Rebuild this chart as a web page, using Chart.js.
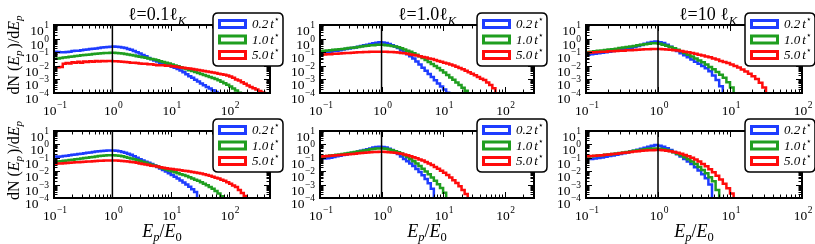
<!DOCTYPE html>
<html><head><meta charset="utf-8">
<script src="https://cdn.jsdelivr.net/npm/chart.js@4.4.1/dist/chart.umd.min.js"></script>
<style>
html,body{margin:0;padding:0;background:#fff;}
#wrap{position:relative;width:815px;height:244px;overflow:hidden;background:#fff}
#wrap canvas{position:absolute;left:0;top:0}
</style></head><body><div id="wrap"></div>
<script>
// ---- bins (left edges, log-uniform, 20 per decade) ----
const binEdges = [0.1,0.1122,0.1259,0.1413,0.1585,0.1778,0.1995,0.2239,0.2512,0.2818,
 0.3162,0.3548,0.3981,0.4467,0.5012,0.5623,0.631,0.7079,0.7943,0.8913,
 1,1.122,1.259,1.413,1.585,1.778,1.995,2.239,2.512,2.818,
 3.162,3.548,3.981,4.467,5.012,5.623,6.31,7.079,7.943,8.913,
 10,11.22,12.59,14.13,15.85,17.78,19.95,22.39,25.12,28.18,
 31.62,35.48,39.81,44.67,50.12,56.23,63.1,70.79,79.43,89.13,
 100,112.2,125.9,141.3,158.5,177.8,199.5,223.9,251.2,281.8,
 316.2,354.8,398.1,446.7,501.2];

// ---- tick values / labels (base 10, exponent) ----
const xTickValues = [0.1, 1, 10, 100];
const xTickExponents = ['-1','0','1','2'];
const yTickValues = [1e-4, 1e-3, 1e-2, 1e-1, 1, 10];
const yTickExponents = ['-4','-3','-2','-1','0','1'];
const xMaxByColumn = [500, 300, 100];

// ---- legend / titles ----
const timeLabels = ['0.2','1.0','5.0'];
const titleMain = ['ℓ=0.1ℓ','ℓ=1.0ℓ','ℓ=10 ℓ'];
const titleSub = ['K','K','K'];

// ---- top row: dN(Ep)/dEp ----
const p1Blue = [0.11,0.107,0.102,0.10,0.10,0.105,0.11,0.12,0.13,0.13,0.14,0.15,0.16,0.17,0.18,0.19,0.20,0.22,0.23,0.24,
 0.25,0.26,0.25,0.24,0.22,0.20,0.17,0.15,0.12,0.10,
 0.079,0.063,0.050,0.038,0.030,0.025,0.021,0.017,0.014,0.012,
 0.010,0.0085,0.0072,0.0058,0.0045,0.0033,0.0024,0.0017,0.0013,0.00093,
 0.00069,0.0005,0.00037,0.00028,0.00021,0.00016,0.00012,0.000089,1e-6];
const p1Green = [0.032,0.033,0.035,0.038,0.040,0.043,0.046,0.049,0.052,0.055,0.059,0.062,0.066,0.069,0.074,0.078,0.081,0.085,0.087,0.089,
 0.091,0.091,0.089,0.085,0.079,0.074,0.068,0.062,0.056,0.051,
 0.047,0.043,0.039,0.035,0.032,0.029,0.026,0.022,0.019,0.017,
 0.015,0.0126,0.0107,0.0091,0.0078,0.0066,0.0056,0.0048,0.0041,0.0035,
 0.0030,0.0025,0.0021,0.0018,0.0015,0.00126,0.00105,0.00085,0.00068,0.00052,
 0.0004,0.0003,0.00021,0.00015,0.000105,0.00007,1e-6];
const p1Red = [0.0076,0.0079,0.0078,0.0081,0.014,0.016,0.015,0.018,0.017,0.020,0.017,0.021,0.019,0.022,0.020,0.023,0.021,0.023,0.022,0.023,
 0.023,0.022,0.022,0.021,0.020,0.019,0.018,0.017,0.017,0.016,
 0.015,0.014,0.014,0.013,0.013,0.012,0.011,0.011,0.011,0.010,
 0.010,0.0093,0.0087,0.0081,0.0076,0.0071,0.0066,0.0062,0.0058,0.0054,
 0.0050,0.0046,0.0042,0.0038,0.0035,0.0032,0.0029,0.0026,0.0024,0.0022,
 0.0019,0.0016,0.0013,0.0010,0.00083,0.00063,0.00048,0.00036,0.00028,0.00022,
 0.00018,0.00014,0.00011,0.000089,1e-6];

const p2Blue = [0.105,0.10,0.098,0.10,0.11,0.12,0.13,0.14,0.155,0.17,0.19,0.20,0.22,0.25,0.28,0.32,0.35,0.40,0.45,0.50,
 0.54,0.52,0.47,0.40,0.32,0.26,
 0.20,0.14,0.10,0.071,0.050,0.035,0.021,0.0123,0.0072,0.0043,0.0025,0.0015,0.00087,0.00051,0.0003,0.00018,0.000105,1e-6];
const p2Green = [0.117,0.12,0.13,0.135,0.14,0.15,0.16,0.166,0.17,0.19,0.20,0.21,0.22,0.24,0.26,0.28,0.30,0.32,0.33,0.35,
 0.355,0.35,0.33,0.31,0.28,0.26,0.23,0.195,0.16,0.13,
 0.107,0.085,0.066,0.050,0.037,0.027,0.019,0.0135,0.0095,0.0068,
 0.0047,0.0032,0.0021,0.0014,0.00093,0.0006,0.00038,0.00024,0.000145,0.000089,1e-6];
const p2Red = [0.063,0.066,0.068,0.071,0.072,0.076,0.078,0.081,0.083,0.087,0.089,0.093,0.095,0.098,0.10,0.102,0.105,0.107,0.107,0.11,
 0.11,0.11,0.107,0.105,0.102,0.10,0.095,0.089,0.083,0.076,
 0.069,0.063,0.056,0.050,0.045,0.040,0.035,0.031,0.027,0.023,
 0.020,0.017,0.015,0.0126,0.0105,0.0085,0.0069,0.0055,0.0044,0.0034,
 0.0026,0.0020,0.0015,0.0011,0.00089,0.0006,0.00038,0.00022,0.00008,1e-6];

const p3Blue = [0.063,0.066,0.071,0.076,0.083,0.091,0.10,0.11,0.12,0.13,0.15,0.166,0.19,0.21,0.245,0.29,0.34,0.41,0.49,0.56,
 0.60,0.55,0.47,0.355,0.25,0.17,0.12,0.083,0.060,0.042,
 0.029,0.020,0.014,0.0095,0.0065,0.004,0.0019,0.00089,0.00032,1e-6];
const p3Green = [0.10,0.105,0.11,0.117,0.126,0.135,0.145,0.155,0.166,0.18,0.20,0.22,0.24,0.26,0.29,0.32,0.35,0.38,0.42,0.45,
 0.45,0.42,0.36,0.30,0.245,0.195,0.15,0.115,0.087,0.065,
 0.048,0.035,0.025,0.018,0.0123,0.0083,0.0055,0.0035,0.0022,0.0013,
 0.00063,0.00025,1e-6];
const p3Red = [0.089,0.093,0.095,0.10,0.102,0.107,0.11,0.115,0.117,0.123,0.126,0.13,0.138,0.141,0.148,0.151,0.158,0.162,0.166,0.17,
 0.17,0.17,0.166,0.158,0.151,0.141,0.132,0.12,0.11,0.098,
 0.087,0.076,0.066,0.058,0.049,0.042,0.035,0.029,0.023,0.019,
 0.0158,0.0126,0.0098,0.0074,0.0054,0.0038,0.0026,0.0017,0.00105,0.00056,0.00025,1e-6];

// ---- bottom row ----
const p4Blue = [0.13,0.126,0.12,0.126,0.135,0.145,0.155,0.166,0.178,0.19,0.20,0.22,0.235,0.25,0.27,0.29,0.31,0.32,0.34,0.35,
 0.355,0.355,0.34,0.31,0.275,0.24,0.20,0.166,0.13,0.102,
 0.079,0.063,0.051,0.042,0.034,0.027,0.021,0.016,0.0123,0.0093,
 0.0071,0.0052,0.0039,0.0028,0.002,0.00145,0.001,0.00068,0.00045,0.00028,1e-6];
const p4Green = [0.05,0.051,0.054,0.056,0.059,0.063,0.068,0.072,0.078,0.083,0.089,0.095,0.102,0.11,0.117,0.126,0.135,0.141,0.148,0.155,
 0.158,0.158,0.151,0.141,0.129,0.115,0.102,0.089,0.078,0.068,
 0.058,0.049,0.042,0.035,0.030,0.026,0.022,0.0186,0.0158,0.0135,
 0.0115,0.0098,0.0083,0.0071,0.006,0.0051,0.0043,0.0035,0.0029,0.0023,
 0.0019,0.0015,0.00117,0.00089,0.00066,0.00048,0.00033,0.00022,0.000138,1e-6];
const p4Red = [0.035,0.036,0.038,0.037,0.040,0.041,0.043,0.044,0.046,0.047,0.049,0.050,0.052,0.054,0.056,0.058,0.059,0.060,0.062,0.063,
 0.063,0.063,0.062,0.060,0.058,0.055,0.052,0.049,0.046,0.043,
 0.038,0.035,0.032,0.029,0.026,0.024,0.022,0.020,0.018,0.0166,
 0.0155,0.0145,0.0135,0.0126,0.0117,0.011,0.0102,0.0095,0.0089,0.0081,
 0.0074,0.0068,0.006,0.0052,0.0046,0.0039,0.0033,0.0028,0.0023,0.0019,
 0.00148,0.00115,0.00087,0.00065,0.0004,0.00024,0.00014,1e-6];

const p5Blue = [0.095,0.089,0.087,0.093,0.102,0.115,0.129,0.145,0.162,0.18,0.20,0.23,0.26,0.29,0.33,0.38,0.44,0.50,0.575,0.65,0.68,
 0.65,0.575,0.48,0.38,0.28,0.19,0.126,0.083,0.056,0.038,0.024,0.0148,0.0089,0.005,0.0026,0.00126,0.0005,1e-6];
const p5Green = [0.12,0.126,0.132,0.138,0.148,0.158,0.17,0.18,0.195,0.21,0.224,0.245,0.27,0.295,0.32,0.355,0.39,0.43,0.46,0.49,0.50,0.49,
 0.47,0.42,0.36,0.31,0.26,0.21,0.158,0.115,0.081,0.056,0.038,0.0245,0.0155,0.0095,0.0058,0.0034,0.0019,0.00105,0.00055,0.00025,1e-6];
const p5Red = [0.12,0.123,0.129,0.135,0.141,0.148,0.155,0.162,0.17,0.178,0.186,0.195,0.204,0.214,0.224,0.234,0.245,0.257,0.27,0.275,
 0.28,0.28,0.275,0.263,0.25,0.234,0.22,0.20,0.178,0.155,
 0.132,0.11,0.091,0.076,0.062,0.049,0.038,0.029,0.021,0.0155,
 0.011,0.0076,0.0051,0.0034,0.0021,0.0013,0.00074,0.0004,0.0002,1e-6];

const p6Blue = [0.089,0.085,0.083,0.089,0.098,0.107,0.12,0.135,0.151,0.17,0.19,0.22,0.25,0.29,0.34,0.40,0.47,0.56,0.68,0.81,
 0.89,0.79,0.66,0.51,0.38,0.27,0.186,0.126,0.083,0.054,
 0.034,0.020,0.0112,0.006,0.003,0.001,1e-6];
const p6Green = [0.12,0.126,0.132,0.138,0.148,0.158,0.17,0.18,0.195,0.21,0.23,0.25,0.275,0.30,0.33,0.36,0.40,0.44,0.47,0.49,
 0.50,0.48,0.44,0.38,0.32,0.257,0.204,0.155,0.112,0.078,
 0.052,0.034,0.021,0.0123,0.0069,0.0036,0.0018,0.0004,1e-6];
const p6Red = [0.126,0.129,0.135,0.141,0.148,0.158,0.166,0.178,0.19,0.204,0.22,0.234,0.25,0.27,0.29,0.31,0.33,0.35,0.36,0.37,
 0.38,0.38,0.36,0.34,0.31,0.275,0.24,0.20,0.162,0.129,
 0.10,0.074,0.052,0.035,0.023,0.014,0.0083,0.0046,0.0024,0.00117,0.00054,0.00022,1e-6];

const seriesColors = ['#1e3cff','#1f9e1f','#ff0b0b'];
const SERIF = '"Liberation Serif","DejaVu Serif","Times New Roman",serif';

const panels = [
  {row:0,col:0,series:[p1Blue,p1Green,p1Red]},
  {row:0,col:1,series:[p2Blue,p2Green,p2Red]},
  {row:0,col:2,series:[p3Blue,p3Green,p3Red]},
  {row:1,col:0,series:[p4Blue,p4Green,p4Red]},
  {row:1,col:1,series:[p5Blue,p5Green,p5Red]},
  {row:1,col:2,series:[p6Blue,p6Green,p6Red]}
];
const COLS = [{L:54,R:270},{L:320,R:534},{L:586,R:802}];
const ROWS = [{T:25,B:93},{T:131,B:198}];
const YW = 40, XH = 30;

function runsWidth(ctx, runs){ let w=0; for(const r of runs){ctx.font=r.f; w+=ctx.measureText(r.t).width + (r.gap||0);} return w; }
function drawRuns(ctx, x, y, runs, align){
  let cx = x; const w = runsWidth(ctx, runs);
  if(align==='center') cx = x - w/2; else if(align==='right') cx = x - w;
  ctx.textBaseline='alphabetic'; ctx.textAlign='left';
  for(const r of runs){ ctx.font=r.f; ctx.fillText(r.t, cx, y + (r.dy||0)); cx += ctx.measureText(r.t).width + (r.gap||0); }
}
function roundRect(ctx,x,y,w,h,r){
  ctx.beginPath(); ctx.moveTo(x+r,y); ctx.lineTo(x+w-r,y); ctx.quadraticCurveTo(x+w,y,x+w,y+r);
  ctx.lineTo(x+w,y+h-r); ctx.quadraticCurveTo(x+w,y+h,x+w-r,y+h); ctx.lineTo(x+r,y+h);
  ctx.quadraticCurveTo(x,y+h,x,y+h-r); ctx.lineTo(x,y+r); ctx.quadraticCurveTo(x,y,x+r,y); ctx.closePath();
}
function powRuns(exp){
  return [{t:'10', f:'13.5px '+SERIF, gap:0.5},{t:exp.replace('-','−'), f:'9.5px '+SERIF, dy:-7}];
}

function decorPlugin(p){
  return { id:'decor', afterDraw(chart){
    const ctx = chart.ctx, a = chart.chartArea, xs = chart.scales.x, ys = chart.scales.y;
    ctx.save();
    // inward ticks on all sides
    ctx.strokeStyle='#000'; ctx.lineWidth=1; ctx.beginPath();
    for(let e=-1;e<3;e++) for(let m=1;m<10;m++){
      const v = m*Math.pow(10,e); if(v < xs.min*0.999 || v > xs.max*1.001) continue;
      const px = Math.round(xs.getPixelForValue(v))+0.5, len = m===1?6:3.5;
      ctx.moveTo(px,a.bottom); ctx.lineTo(px,a.bottom-len); ctx.moveTo(px,a.top); ctx.lineTo(px,a.top+len);
    }
    for(let e=-4;e<1;e++) for(let m=1;m<10;m++){
      const v = m*Math.pow(10,e); const py = Math.round(ys.getPixelForValue(v))+0.5, len = m===1?6:3.5;
      ctx.moveTo(a.left,py); ctx.lineTo(a.left+len,py); ctx.moveTo(a.right,py); ctx.lineTo(a.right-len,py);
    }
    ctx.stroke();
    ctx.lineWidth=2; ctx.strokeRect(a.left,a.top,a.right-a.left,a.bottom-a.top);
    ctx.fillStyle='#000';
    // tick labels (positions from the library's scales)
    xs.ticks.forEach((t)=>{
      const i = xTickValues.indexOf(t.value); if(i<0) return;
      drawRuns(ctx, xs.getPixelForValue(t.value)+1, a.bottom+21.5, powRuns(xTickExponents[i]), 'center');
    });
    ys.ticks.forEach((t)=>{
      const i = yTickValues.indexOf(t.value); if(i<0) return;
      drawRuns(ctx, a.left-5, ys.getPixelForValue(t.value)+10, powRuns(yTickExponents[i]), 'right');
    });
    // panel title (top row)
    if(p.row===0){
      const cx = [157,427,708][p.col];
      drawRuns(ctx, cx, 20, [{t:titleMain[p.col], f:'18px '+SERIF},{t:titleSub[p.col], f:'italic 12.5px '+SERIF, dy:4.5}], 'center');
    }
    // x-axis title (bottom row)
    if(p.row===1){
      const cx = (a.left+a.right)/2;
      drawRuns(ctx, cx, 237, [{t:'E',f:'italic 18px '+SERIF},{t:'p',f:'italic 12.5px '+SERIF,dy:4},{t:'/',f:'18px '+SERIF},{t:'E',f:'italic 18px '+SERIF},{t:'0',f:'12.5px '+SERIF,dy:4}], 'center');
    }
    // y-axis title (left column)
    if(p.col===0){
      ctx.save(); ctx.translate(19,(a.top+a.bottom)/2 - 4); ctx.rotate(-Math.PI/2);
      drawRuns(ctx, 0, 0, [{t:'dN (',f:'16px '+SERIF},{t:'E',f:'italic 16px '+SERIF},{t:'p',f:'italic 11px '+SERIF,dy:3,gap:2},{t:')/d',f:'16px '+SERIF},{t:'E',f:'italic 16px '+SERIF},{t:'p',f:'italic 11px '+SERIF,dy:3}], 'center');
      ctx.restore();
    }
    // legend box
    const lx = a.right - 57, ly = a.top - 12;
    roundRect(ctx, lx, ly, 70, 53, 5); ctx.fillStyle='#fff'; ctx.fill();
    ctx.lineWidth=1.5; ctx.strokeStyle='#000'; ctx.stroke();
    for(let i=0;i<3;i++){
      ctx.lineWidth=3; ctx.strokeStyle=seriesColors[i];
      ctx.strokeRect(lx+6.5, ly+7.5+i*15.5, 26, 7);
      ctx.fillStyle='#000';
      drawRuns(ctx, lx+39, ly+15+i*15.5, [{t:timeLabels[i],f:'italic 13px '+SERIF, gap:2},{t:'t',f:'italic 13px '+SERIF},{t:'⋆',f:'9px '+SERIF,dy:-6}], 'left');
    }
    ctx.restore();
  }};
}

const wrap = document.getElementById('wrap');
panels.forEach((p) => {
  const col = COLS[p.col], row = ROWS[p.row];
  const cv = document.createElement('canvas'); cv.width=815; cv.height=244; wrap.appendChild(cv);
  const mk = (arr) => arr.map((v,i)=>({x:binEdges[i], y:v}));
  const ds = (arr, i) => ({data:mk(arr), borderColor:seriesColors[i], borderWidth:2.5, stepped:'after', pointRadius:0, fill:false, order:3-i});
  new Chart(cv, {
    type:'line',
    data:{datasets:[
      {data:[{x:1,y:1e-6},{x:1,y:100}], borderColor:'#000', borderWidth:1.5, pointRadius:0, fill:false, order:0},
      ds(p.series[0],0), ds(p.series[1],1), ds(p.series[2],2)
    ]},
    options:{
      responsive:false, animation:false, devicePixelRatio:1, events:[],
      layout:{padding:{left:col.L-YW, right:815-col.R, top:row.T, bottom:244-row.B-XH}},
      plugins:{legend:{display:false}, tooltip:{enabled:false}, title:{display:false}},
      scales:{
        x:{type:'logarithmic', position:'bottom', min:0.1, max:xMaxByColumn[p.col],
          afterBuildTicks:(s)=>{ s.ticks = xTickValues.filter(v=>v<=s.max*1.001).map(v=>({value:v})); },
          afterFit:(s)=>{ s.height=XH; s.paddingLeft=0; s.paddingRight=0; s.paddingTop=0; s.paddingBottom=0; },
          ticks:{display:false, autoSkip:false},
          grid:{display:false, drawTicks:false}, border:{display:false}},
        y:{type:'logarithmic', position:'left', min:1e-4, max:10,
          afterBuildTicks:(s)=>{ s.ticks = yTickValues.map(v=>({value:v})); },
          afterFit:(s)=>{ s.width=YW; s.paddingLeft=0; s.paddingRight=0; s.paddingTop=0; s.paddingBottom=0; },
          ticks:{display:false, autoSkip:false},
          grid:{display:false, drawTicks:false}, border:{display:false}}
      }
    },
    plugins:[decorPlugin(p)]
  });
});
</script></body></html>
